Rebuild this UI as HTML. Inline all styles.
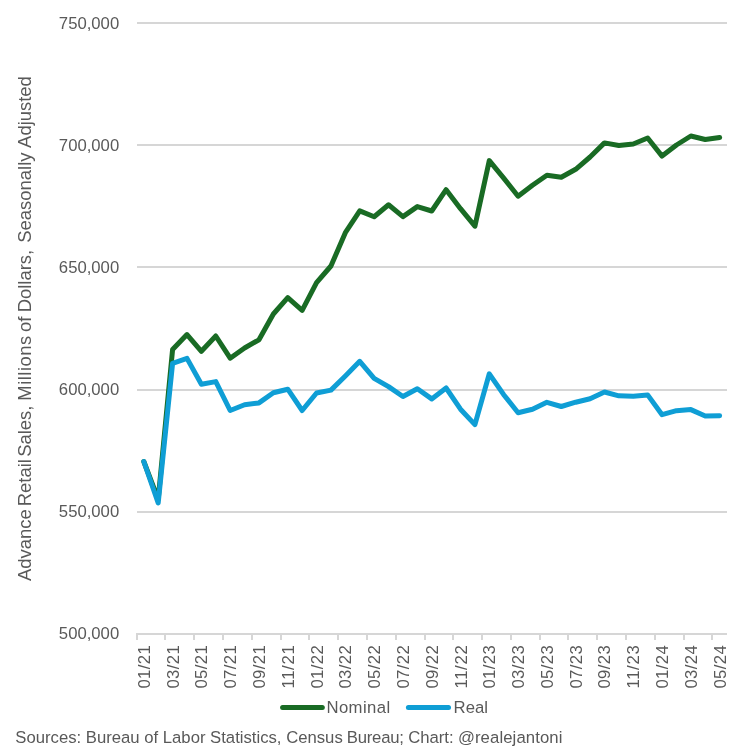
<!DOCTYPE html>
<html><head><meta charset="utf-8"><style>
html,body{margin:0;padding:0;background:#fff;}
svg{display:block;will-change:transform;}
.t{font-family:"Liberation Sans",sans-serif;font-size:16.7px;fill:#595959;}
</style></head><body>
<svg width="750" height="751" viewBox="0 0 750 751">
<rect width="750" height="751" fill="#fff"/>
<rect x="137" y="22" width="590" height="2" fill="#d6d6d6"/>
<rect x="137" y="144" width="590" height="2" fill="#d6d6d6"/>
<rect x="137" y="266" width="590" height="2" fill="#d6d6d6"/>
<rect x="137" y="389" width="590" height="2" fill="#d6d6d6"/>
<rect x="137" y="511" width="590" height="2" fill="#d6d6d6"/>
<rect x="137" y="633" width="590" height="2" fill="#d6d6d6"/>
<rect x="136" y="633" width="2" height="7" fill="#d6d6d6"/>
<rect x="164" y="633" width="2" height="7" fill="#d6d6d6"/>
<rect x="193" y="633" width="2" height="7" fill="#d6d6d6"/>
<rect x="222" y="633" width="2" height="7" fill="#d6d6d6"/>
<rect x="251" y="633" width="2" height="7" fill="#d6d6d6"/>
<rect x="280" y="633" width="2" height="7" fill="#d6d6d6"/>
<rect x="308" y="633" width="2" height="7" fill="#d6d6d6"/>
<rect x="337" y="633" width="2" height="7" fill="#d6d6d6"/>
<rect x="366" y="633" width="2" height="7" fill="#d6d6d6"/>
<rect x="395" y="633" width="2" height="7" fill="#d6d6d6"/>
<rect x="424" y="633" width="2" height="7" fill="#d6d6d6"/>
<rect x="452" y="633" width="2" height="7" fill="#d6d6d6"/>
<rect x="481" y="633" width="2" height="7" fill="#d6d6d6"/>
<rect x="510" y="633" width="2" height="7" fill="#d6d6d6"/>
<rect x="539" y="633" width="2" height="7" fill="#d6d6d6"/>
<rect x="567" y="633" width="2" height="7" fill="#d6d6d6"/>
<rect x="596" y="633" width="2" height="7" fill="#d6d6d6"/>
<rect x="625" y="633" width="2" height="7" fill="#d6d6d6"/>
<rect x="654" y="633" width="2" height="7" fill="#d6d6d6"/>
<rect x="683" y="633" width="2" height="7" fill="#d6d6d6"/>
<rect x="711" y="633" width="2" height="7" fill="#d6d6d6"/>
<text x="119.2" y="29.00" text-anchor="end" class="t">750,000</text>
<text x="119.2" y="151.00" text-anchor="end" class="t">700,000</text>
<text x="119.2" y="273.00" text-anchor="end" class="t">650,000</text>
<text x="119.2" y="395.00" text-anchor="end" class="t">600,000</text>
<text x="119.2" y="517.00" text-anchor="end" class="t">550,000</text>
<text x="119.2" y="639.00" text-anchor="end" class="t">500,000</text>
<text transform="translate(149.80,688.6) rotate(-90)" textLength="43.3" lengthAdjust="spacing" class="t">01/21</text>
<text transform="translate(178.59,688.6) rotate(-90)" textLength="43.3" lengthAdjust="spacing" class="t">03/21</text>
<text transform="translate(207.38,688.6) rotate(-90)" textLength="43.3" lengthAdjust="spacing" class="t">05/21</text>
<text transform="translate(236.17,688.6) rotate(-90)" textLength="43.3" lengthAdjust="spacing" class="t">07/21</text>
<text transform="translate(264.97,688.6) rotate(-90)" textLength="43.3" lengthAdjust="spacing" class="t">09/21</text>
<text transform="translate(293.76,688.6) rotate(-90)" textLength="43.3" lengthAdjust="spacing" class="t">11/21</text>
<text transform="translate(322.55,688.6) rotate(-90)" textLength="43.3" lengthAdjust="spacing" class="t">01/22</text>
<text transform="translate(351.34,688.6) rotate(-90)" textLength="43.3" lengthAdjust="spacing" class="t">03/22</text>
<text transform="translate(380.13,688.6) rotate(-90)" textLength="43.3" lengthAdjust="spacing" class="t">05/22</text>
<text transform="translate(408.93,688.6) rotate(-90)" textLength="43.3" lengthAdjust="spacing" class="t">07/22</text>
<text transform="translate(437.72,688.6) rotate(-90)" textLength="43.3" lengthAdjust="spacing" class="t">09/22</text>
<text transform="translate(466.51,688.6) rotate(-90)" textLength="43.3" lengthAdjust="spacing" class="t">11/22</text>
<text transform="translate(495.30,688.6) rotate(-90)" textLength="43.3" lengthAdjust="spacing" class="t">01/23</text>
<text transform="translate(524.09,688.6) rotate(-90)" textLength="43.3" lengthAdjust="spacing" class="t">03/23</text>
<text transform="translate(552.89,688.6) rotate(-90)" textLength="43.3" lengthAdjust="spacing" class="t">05/23</text>
<text transform="translate(581.68,688.6) rotate(-90)" textLength="43.3" lengthAdjust="spacing" class="t">07/23</text>
<text transform="translate(610.47,688.6) rotate(-90)" textLength="43.3" lengthAdjust="spacing" class="t">09/23</text>
<text transform="translate(639.26,688.6) rotate(-90)" textLength="43.3" lengthAdjust="spacing" class="t">11/23</text>
<text transform="translate(668.05,688.6) rotate(-90)" textLength="43.3" lengthAdjust="spacing" class="t">01/24</text>
<text transform="translate(696.85,688.6) rotate(-90)" textLength="43.3" lengthAdjust="spacing" class="t">03/24</text>
<text transform="translate(725.64,688.6) rotate(-90)" textLength="43.3" lengthAdjust="spacing" class="t">05/24</text>
<text transform="translate(31,581.0) rotate(-90)" class="t" style="font-size:18.45px">Advance</text>
<text transform="translate(31,506.3) rotate(-90)" class="t" style="font-size:18.45px">Retail</text>
<text transform="translate(31,456.8) rotate(-90)" class="t" style="font-size:18.45px">Sales,</text>
<text transform="translate(31,400.7) rotate(-90)" textLength="65.0" lengthAdjust="spacing" class="t" style="font-size:18.45px">Millions</text>
<text transform="translate(31,332.1) rotate(-90)" class="t" style="font-size:18.45px">of</text>
<text transform="translate(31,312.3) rotate(-90)" class="t" style="font-size:18.45px">Dollars,</text>
<text transform="translate(31,242.7) rotate(-90)" class="t" style="font-size:18.45px">Seasonally</text>
<text transform="translate(31,147.9) rotate(-90)" class="t" style="font-size:18.45px">Adjusted</text>
<polyline points="143.80,461.50 158.19,499.50 172.59,349.60 186.99,334.60 201.38,351.30 215.78,336.00 230.17,358.20 244.57,348.00 258.97,339.80 273.36,314.00 287.76,297.70 302.15,310.30 316.55,282.70 330.95,266.00 345.34,232.70 359.74,210.90 374.13,216.70 388.53,204.80 402.93,216.60 417.32,206.60 431.72,211.00 446.11,189.70 460.51,208.70 474.91,226.20 489.30,160.60 503.70,178.20 518.09,196.20 532.49,185.30 546.89,175.30 561.28,177.30 575.68,169.30 590.07,157.00 604.47,142.90 618.87,145.50 633.26,144.00 647.66,138.00 662.05,156.10 676.45,145.00 690.85,136.00 705.24,139.50 719.64,137.60" fill="none" stroke="#196B24" stroke-width="5" stroke-linejoin="round" stroke-linecap="round"/>
<polyline points="143.80,461.50 158.19,503.00 172.59,363.30 186.99,358.40 201.38,384.20 215.78,381.60 230.17,410.50 244.57,404.70 258.97,402.90 273.36,392.80 287.76,389.20 302.15,410.50 316.55,393.00 330.95,390.10 345.34,376.00 359.74,361.30 374.13,378.40 388.53,386.60 402.93,396.50 417.32,388.70 431.72,398.90 446.11,388.00 460.51,409.20 474.91,424.60 489.30,373.80 503.70,394.70 518.09,412.70 532.49,409.30 546.89,402.30 561.28,406.50 575.68,402.20 590.07,398.70 604.47,392.00 618.87,395.80 633.26,396.30 647.66,394.90 662.05,414.70 676.45,410.70 690.85,409.60 705.24,416.00 719.64,415.70" fill="none" stroke="#0F9ED5" stroke-width="5" stroke-linejoin="round" stroke-linecap="round"/>
<line x1="282.6" y1="707.5" x2="322.3" y2="707.5" stroke="#196B24" stroke-width="5" stroke-linecap="round"/>
<text x="326.4" y="712.6" textLength="63.8" lengthAdjust="spacing" class="t">Nominal</text>
<line x1="408.4" y1="707.5" x2="448.5" y2="707.5" stroke="#0F9ED5" stroke-width="5" stroke-linecap="round"/>
<text x="453.6" y="713" class="t">Real</text>
<text x="15.3" y="742.8" class="t">Sources: Bureau of Labor Statistics, Census</text>
<text x="346.7" y="742.8" textLength="57.3" lengthAdjust="spacing" class="t">Bureau;</text>
<text x="408.2" y="742.8" class="t">Chart:</text>
<text x="457.9" y="742.8" textLength="104.5" lengthAdjust="spacing" class="t">@realejantoni</text>
</svg>
</body></html>
